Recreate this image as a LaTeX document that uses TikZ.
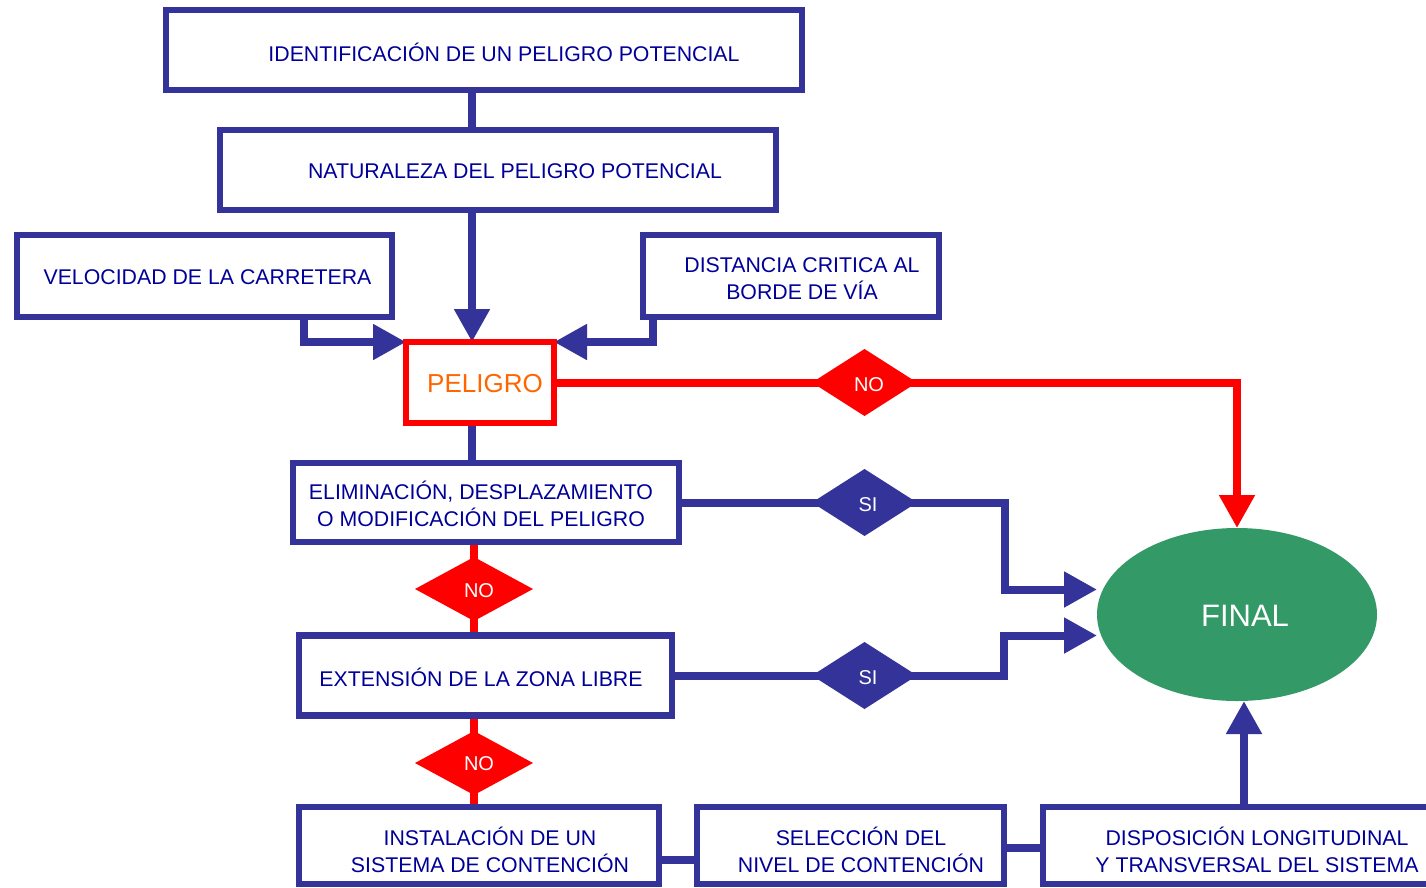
\documentclass[tikz,border=0pt]{standalone}
\usepackage{fontspec}
\setmainfont{Liberation Sans}
\usetikzlibrary{shapes.geometric,arrows.meta}
\definecolor{bblue}{RGB}{51,51,153}
\definecolor{tblue}{RGB}{0,0,153}
\definecolor{rred}{RGB}{255,0,0}
\definecolor{fgreen}{RGB}{51,153,102}
\definecolor{porange}{RGB}{255,102,0}
\pgfdeclarelayer{background}
\pgfsetlayers{background,main}
\begin{document}
\begin{tikzpicture}[x=1pt,y=-1pt,
  box/.style={draw=bblue,line width=6.5pt,rectangle,inner sep=0pt,outer sep=0pt,fill=white},
  redbox/.style={draw=rred,line width=6.5pt,rectangle,inner sep=0pt,outer sep=0pt,fill=white},
  txt/.style={text=tblue,font=\fontsize{21.3}{27}\selectfont,align=center,inner sep=0pt},
  dia/.style={diamond,inner sep=0pt,outer sep=0pt,minimum width=105pt,minimum height=67pt,text=white,font=\fontsize{20}{24}\selectfont},
  dtxt/.style={text=white,font=\fontsize{20}{24}\selectfont,inner sep=0pt},
  conn/.style={draw=bblue,line width=8pt},
  rconn/.style={draw=rred,line width=8pt},
  tip/.style={-{Triangle[length=33pt,width=34pt]}}]
\useasboundingbox (0,0) rectangle (1426,887);

% axes
\coordinate (axis) at (472,0);
\coordinate (raxis) at (474,0);
\coordinate (fx) at (1244,0);
\coordinate (vx) at (304,0);
\coordinate (dx) at (653,0);
\coordinate (s1x) at (1005,0);
\coordinate (s2x) at (1004,0);
\coordinate (rx) at (1237,0);

% boxes
\node[box,minimum width=636pt,minimum height=80pt] (ident) at (484,50) {};
\node[box,minimum width=556pt,minimum height=80pt] (natur) at (498,170) {};
\node[box,minimum width=375pt,minimum height=82pt] (veloc) at (204.5,276) {};
\node[box,minimum width=296pt,minimum height=82pt] (dist) at (791,276) {};
\node[redbox,minimum width=148pt,minimum height=81pt] (pel) at (480,382.5) {};
\node[box,minimum width=386pt,minimum height=79pt] (elim) at (486,502.5) {};
\node[box,minimum width=373pt,minimum height=80pt] (ext) at (485.5,675.5) {};
\node[box,minimum width=360pt,minimum height=77pt] (inst) at (479,845.5) {};
\node[box,minimum width=307pt,minimum height=77pt] (sel) at (850.5,845.5) {};
\node[box,minimum width=402pt,minimum height=77pt] (disp) at (1244,845.5) {};

\node[ellipse,fill=fgreen,inner sep=0pt,outer sep=0pt,minimum width=280pt,minimum height=173pt] (final) at (1237,614.5) {};
\node[text=white,font=\fontsize{31}{36}\selectfont,inner sep=0pt] (finalt) at (1245,616) {FINAL};

% diamonds
\node[dia,fill=rred] (no1) at (864.5,382.5) {};
\node[dia,fill=bblue] (si1) at (864.5,502.5) {};
\node[dia,fill=rred,minimum width=118pt,minimum height=64pt] (no2) at (474,589) {};
\node[dia,fill=bblue] (si2) at (864.5,675.5) {};
\node[dia,fill=rred,minimum width=118pt,minimum height=64pt] (no3) at (474,763) {};

\node[dtxt] (no1t) at (869,385) {NO};
\node[dtxt] (si1t) at (868,505) {SI};
\node[dtxt] (no2t) at (479,591) {NO};
\node[dtxt] (si2t) at (868,678) {SI};
\node[dtxt] (no3t) at (479,764) {NO};

% texts
\node[txt] (identt) at (504,52) {IDENTIFICACIÓN DE UN PELIGRO POTENCIAL};
\node[txt] (naturt) at (515,171) {NATURALEZA DEL PELIGRO POTENCIAL};
\node[txt] (veloct) at (207.5,277) {VELOCIDAD DE LA CARRETERA};
\node[txt] (distt) at (802,278.5) {DISTANCIA CRITICA AL\\BORDE DE VÍA};
\node[text=porange,font=\fontsize{26}{30}\selectfont,inner sep=0pt] (pelt) at (485,384) {PELIGRO};
\node[txt] (elimt) at (481,503.5) {ELIMINACIÓN, DESPLAZAMIENTO\\O MODIFICACIÓN DEL PELIGRO};
\node[txt] (extt) at (481,677) {EXTENSIÓN DE LA ZONA LIBRE};
\node[txt] (instt) at (490,849.5) {INSTALACIÓN DE UN\\SISTEMA DE CONTENCIÓN};
\node[txt] (selt) at (861,849.5) {SELECCIÓN DEL\\NIVEL DE CONTENCIÓN};
\node[txt] (dispt) at (1257,849.5) {DISPOSICIÓN LONGITUDINAL\\Y TRANSVERSAL DEL SISTEMA};

\begin{pgfonlayer}{background}
% connectors (blue)
\draw[conn] (ident.center -| axis) -- (natur.center -| axis);
\draw[conn,tip] (natur.center -| axis) -- (pel.north -| axis);
\draw[conn,tip] (veloc.center -| vx) |- (pel.north west);
\draw[conn,tip] (dist.center -| dx) |- (pel.north east);
\draw[conn] (pel.center -| axis) -- (elim.center -| axis);
\draw[conn] (elim.center) -- (si1.center);
\draw[conn,tip] (si1.center) -| ([yshift=25pt]final.west -| s1x) -- ([yshift=25pt]final.west);
\draw[conn] (ext.center) -- (si2.center);
\draw[conn,tip] (si2.center) -| ([yshift=-21pt]final.west -| s2x) -- ([yshift=-21pt]final.west);
\draw[conn] ([yshift=-14pt]inst.center) -- ([yshift=-14pt]sel.center);
\draw[conn] ([yshift=-2pt]sel.center) -- ([yshift=-2pt]disp.center);
\draw[conn,tip] (disp.center -| fx) -- (final.south -| fx);

% connectors (red)
\draw[rconn] (pel.center) -- (no1.center);
\draw[rconn,tip] (no1.center) -| (final.north -| rx);
\draw[rconn] (elim.center -| raxis) -- (no2.center);
\draw[rconn] (no2.center) -- (ext.center -| raxis);
\draw[rconn] (ext.center -| raxis) -- (no3.center);
\draw[rconn] (no3.center) -- (inst.center -| raxis);
\end{pgfonlayer}
\end{tikzpicture}
\end{document}
